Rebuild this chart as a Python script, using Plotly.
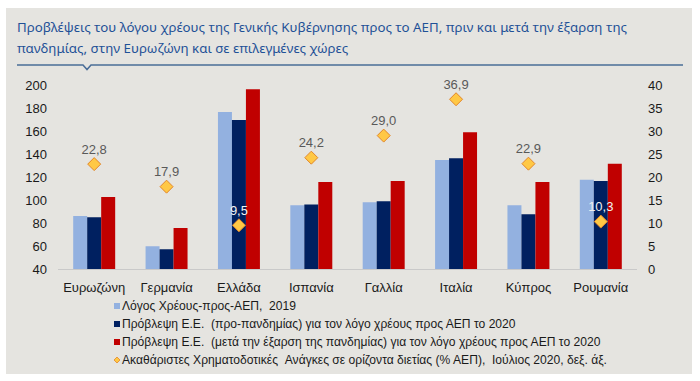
import plotly.graph_objects as go

countries = ["Ευρωζώνη", "Γερμανία", "Ελλάδα", "Ισπανία", "Γαλλία", "Ιταλία", "Κύπρος", "Ρουμανία"]
debt_2019 = [86.0, 59.8, 176.6, 95.5, 98.1, 134.8, 95.5, 117.7]
forecast_pre = [85.1, 57.2, 169.6, 96.1, 99.0, 136.2, 87.6, 116.6]
forecast_post = [102.7, 75.6, 196.4, 115.6, 116.5, 158.9, 115.7, 131.6]
gfn = [22.8, 17.9, 9.5, 24.2, 29.0, 36.9, 22.9, 10.3]
gfn_label_colors = ["#595959", "#595959", "#f2f2f2", "#595959", "#595959", "#595959", "#595959", "#f2f2f2"]

legend_names = [
    "Λόγος Χρέους-προς-ΑΕΠ,\u00a0\u00a02019",
    "Πρόβλεψη Ε.Ε.\u00a0\u00a0(προ-πανδημίας) για τον λόγο χρέους προς ΑΕΠ το 2020",
    "Πρόβλεψη Ε.Ε.\u00a0\u00a0(μετά την έξαρση της πανδημίας) για τον λόγο χρέους προς ΑΕΠ το 2020",
    "Ακαθάριστες Χρηματοδοτικές\u00a0\u00a0Ανάγκες σε ορίζοντα διετίας (% ΑΕΠ),\u00a0\u00a0Ιούλιος 2020, δεξ. άξ.",
]
title_lines = [
    "Προβλέψεις του λόγου χρέους της Γενικής Κυβέρνησης προς το ΑΕΠ, πριν και μετά την έξαρση της",
    "πανδημίας, στην Ευρωζώνη και σε επιλεγμένες χώρες",
]

W, H = 700, 381
L, R, T, B = 58, 637, 85, 269

def px(x):
    return (x - L) / (R - L)

def py(y):
    return (B - y) / (B - T)

c_light, c_dark, c_red = "#93b1e0", "#002060", "#c00000"

fig = go.Figure()
fig.add_bar(x=countries, y=debt_2019, marker=dict(color=c_light, line=dict(width=0)), name=legend_names[0])
fig.add_bar(x=countries, y=forecast_pre, marker=dict(color=c_dark, line=dict(width=0)), name=legend_names[1])
fig.add_bar(x=countries, y=forecast_post, marker=dict(color=c_red, line=dict(width=0)), name=legend_names[2])
fig.add_scatter(
    x=countries, y=gfn, yaxis="y2", mode="markers+text",
    marker=dict(symbol="diamond", size=10, color="#ffc845", line=dict(color="#e2862a", width=1)),
    text=[f"{v:.1f}".replace(".", ",") for v in gfn],
    textposition="top center",
    textfont=dict(family="Liberation Sans, Arial", size=13, color=gfn_label_colors),
    name=legend_names[3], cliponaxis=False,
)

shapes = []
# gray panel
shapes.append(dict(type="rect", xref="paper", yref="paper", layer="below",
                   x0=px(6), x1=px(692), y0=py(374), y1=py(8),
                   fillcolor="#e5e4e0", line=dict(width=0)))
# title rule with notch
path = "M {} {} L {} {} L {} {} L {} {} L {} {}".format(
    px(17), py(65), px(83), py(65), px(87), py(69.5), px(91), py(65), px(683), py(65))
shapes.append(dict(type="path", xref="paper", yref="paper", path=path,
                   line=dict(color="#4a6d97", width=1.5)))

annotations = []
for i, line in enumerate(title_lines):
    annotations.append(dict(xref="paper", yref="paper", x=px(15), y=py([27, 48][i]),
                            xanchor="left", yanchor="middle", showarrow=False, text=line,
                            font=dict(family="Noto Sans, Open Sans", size=13.3, color="#1f5197")))

# custom legend
leg_rows = [306, 324, 342, 360]
leg_colors = [c_light, c_dark, c_red]
for i, yy in enumerate(leg_rows):
    if i < 3:
        shapes.append(dict(type="rect", xref="paper", yref="paper",
                           x0=px(114), x1=px(120), y0=py(yy + 3), y1=py(yy - 3),
                           fillcolor=leg_colors[i], line=dict(width=0)))
    else:
        p = "M {} {} L {} {} L {} {} L {} {} Z".format(
            px(117), py(yy - 3), px(120), py(yy), px(117), py(yy + 3), px(114), py(yy))
        shapes.append(dict(type="path", xref="paper", yref="paper", path=p,
                           fillcolor="#ffc845", line=dict(color="#e2862a", width=0.8)))
    annotations.append(dict(xref="paper", yref="paper", x=px(120), y=py(yy),
                            xanchor="left", yanchor="middle", showarrow=False,
                            text=legend_names[i],
                            font=dict(family="Liberation Sans, Arial", size=12.1, color="#1a1a1a")))

fig.update_layout(
    width=W, height=H,
    margin=dict(l=L, r=W - R, t=T, b=H - B, pad=0),
    paper_bgcolor="white", plot_bgcolor="rgba(0,0,0,0)",
    barmode="group", bargap=0.42, bargroupgap=0,
    showlegend=False,
    font=dict(family="Liberation Sans, Arial", color="#1a1a1a"),
    shapes=shapes, annotations=annotations,
    xaxis=dict(showline=True, linecolor="#c9c9c9", linewidth=1, showgrid=False, ticks="",
               ticklabelstandoff=6,
               tickfont=dict(family="Liberation Sans, Arial", size=13, color="#1a1a1a")),
    yaxis=dict(range=[40, 200], dtick=20, showgrid=False, zeroline=False, showline=False,
               ticks="", ticklabelstandoff=10, tickfont=dict(size=13, color="#1a1a1a")),
    yaxis2=dict(range=[0, 40], dtick=5, overlaying="y", side="right", showgrid=False,
                zeroline=False, showline=False, ticks="", ticklabelstandoff=10,
                tickfont=dict(size=13, color="#1a1a1a")),
)

fig.write_html("out.html", config={"displayModeBar": False},
               post_script="document.body.style.margin='0px';")
